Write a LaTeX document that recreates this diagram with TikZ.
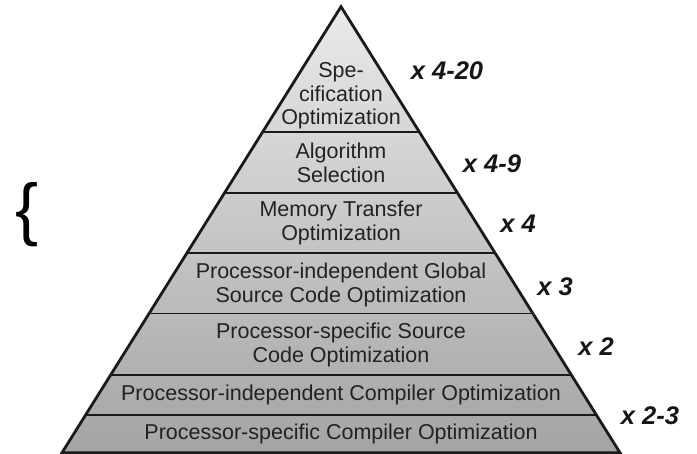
\documentclass[tikz,border=0pt]{standalone}
\usepackage{fontspec}
\setmainfont{Liberation Sans}
\usetikzlibrary{calc}
\definecolor{pyrtop}{HTML}{EAEAEA}
\definecolor{pyrbot}{HTML}{A4A4A4}
\definecolor{textgray}{HTML}{222222}
\definecolor{labelblack}{HTML}{161616}
\definecolor{edgecol}{HTML}{1A1A1A}
\begin{document}
\begin{tikzpicture}[x=1pt,y=-1pt,
  layertext/.style={font=\fontsize{21.5}{23.5}\selectfont, text=textgray, align=center, inner sep=0pt},
  factor/.style={font=\fontsize{25.5}{28}\selectfont\bfseries\itshape, text=labelblack, inner sep=0pt},
  sepline/.style={draw=edgecol, line width=1.8pt},
  outline/.style={draw=edgecol, line width=2.8pt}]
\useasboundingbox (0,0) rectangle (697,454);
\coordinate (apex) at (341,6.7);
\coordinate (bl) at (62,452.7);
\coordinate (br) at (620,452.7);
\shade[top color=pyrtop, bottom color=pyrbot] (apex) -- (bl) -- (br) -- cycle;
\foreach \t in {0.2803,0.4170,0.5522,0.6879,0.8258,0.9155}
  \draw[sepline] ($(apex)!\t!(bl)$) -- ($(apex)!\t!(br)$);
\draw[outline] (apex) -- (bl) -- (br) -- cycle;

\node[layertext] (l1) at (341,96) {Spe-\\cification\\Optimization};
\node[layertext] (l2) at (341,163) {Algorithm\\Selection};
\node[layertext] (l3) at (341,223) {Memory Transfer\\Optimization};
\node[layertext] (l4) at (341,285) {Processor-independent Global\\Source Code Optimization};
\node[layertext] (l5) at (341,345) {Processor-specific Source\\Code Optimization};
\node[layertext] (l6) at (341,395) {Processor-independent Compiler Optimization};
\node[layertext] (l7) at (341,434) {Processor-specific Compiler Optimization};

\node[factor] (f1) at (447,71) {x 4-20};
\node[factor] (f2) at (492,164) {x 4-9};
\node[factor] (f3) at (518,224) {x 4};
\node[factor] (f4) at (555,287) {x 3};
\node[factor] (f5) at (596,347) {x 2};
\node[factor] (f6) at (650,416) {x 2-3};

\node[font=\fontsize{69}{70}\selectfont, inner sep=0pt] (brace) at (27,214.5) {\{};
\end{tikzpicture}
\end{document}
